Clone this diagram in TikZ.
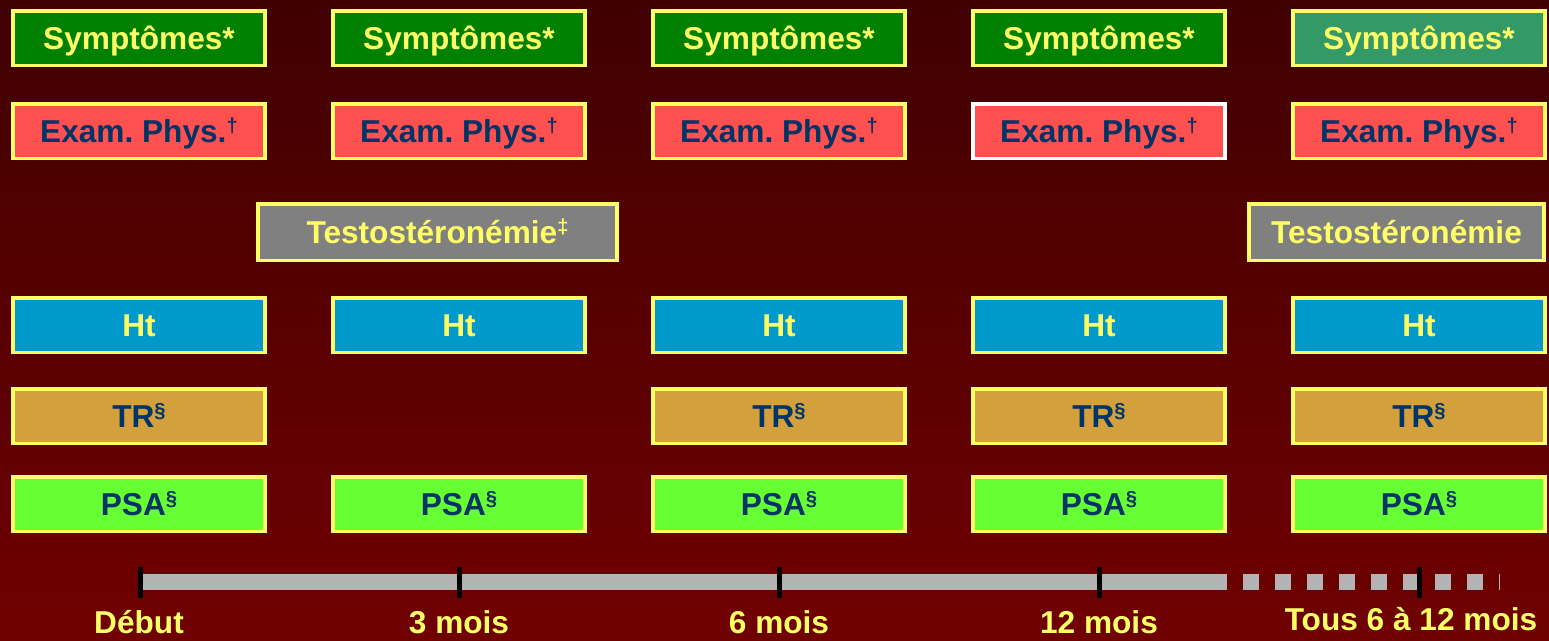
\documentclass[tikz,border=0pt]{standalone}
\usepackage{fontspec}
\setmainfont{Liberation Sans}
\usepackage{xcolor}
\usepackage{tikz}
\usetikzlibrary{positioning}

\definecolor{bgtop}{HTML}{400000}
\definecolor{bgbot}{HTML}{700000}
\definecolor{boxyel}{HTML}{FFFF66}
\definecolor{txtnavy}{HTML}{003366}
\definecolor{sympgreen}{HTML}{008000}
\definecolor{sympsea}{HTML}{339966}
\definecolor{examred}{HTML}{FF5050}
\definecolor{testogray}{HTML}{808080}
\definecolor{htblue}{HTML}{0099CC}
\definecolor{trtan}{HTML}{D4A03C}
\definecolor{psalime}{HTML}{66FF33}
\definecolor{bargray}{HTML}{B3B3B3}

\newcommand{\supmk}[1]{\raisebox{5.5pt}{\fontsize{11.5}{11.5}\selectfont #1}}

\begin{document}
\begin{tikzpicture}[
  x=0.02cm, y=-0.02cm,
  % Node styles
  box/.style={rectangle, draw=boxyel, line width=0.07cm, inner sep=0pt,
    minimum width=5.05cm, minimum height=1.09cm, text height=0.45cm, text depth=0cm,
    font=\fontsize{18}{20}\selectfont\bfseries\frenchspacing, align=center},
  symp/.style={box, fill=sympgreen, text=boxyel},
  exam/.style={box, fill=examred, text=txtnavy},
  testo/.style={box, fill=testogray, text=boxyel, minimum height=1.13cm},
  ht/.style={box, fill=htblue, text=boxyel},
  tr/.style={box, fill=trtan, text=txtnavy},
  psa/.style={box, fill=psalime, text=txtnavy},
  bar/.style={draw=bargray, line width=0.31cm},
  tick/.style={draw=black, line width=0.1cm},
  lbl/.style={anchor=base, text=boxyel, inner sep=0pt, font=\fontsize{18}{20}\selectfont\bfseries}
]

  % Background
  \useasboundingbox (0,0) rectangle (1549,640);
  \fill[top color=bgtop, bottom color=bgbot] (0,0) rectangle (1549,640);

  % Row: Symptomes
  \node[symp] (symp1) at (139,38) {Symptômes*};
  \node[symp] (symp2) at (459,38) {Symptômes*};
  \node[symp] (symp3) at (779,38) {Symptômes*};
  \node[symp] (symp4) at (1099,38) {Symptômes*};
  \node[symp, fill=sympsea] (symp5) at (1419,38) {Symptômes*};

  % Row: Examen physique
  \node[exam] (exam1) at (139,131) {Exam. Phys.\supmk{†}};
  \node[exam] (exam2) at (459,131) {Exam. Phys.\supmk{†}};
  \node[exam] (exam3) at (779,131) {Exam. Phys.\supmk{†}};
  \node[exam, draw=white] (exam4) at (1099,131) {Exam. Phys.\supmk{†}};
  \node[exam] (exam5) at (1419,131) {Exam. Phys.\supmk{†}};

  % Row: Testosteronemie
  \node[testo, minimum width=7.19cm] (testo1) at (437.5,232) {Testostéronémie\supmk{‡}};
  \node[testo, minimum width=5.91cm] (testo2) at (1396.5,232) {Testostéronémie};

  % Row: Ht
  \node[ht] (ht1) at (139,325) {Ht};
  \node[ht] (ht2) at (459,325) {Ht};
  \node[ht] (ht3) at (779,325) {Ht};
  \node[ht] (ht4) at (1099,325) {Ht};
  \node[ht] (ht5) at (1419,325) {Ht};

  % Row: TR
  \node[tr] (tr1) at (139,416) {TR\supmk{§}};
  \node[tr] (tr3) at (779,416) {TR\supmk{§}};
  \node[tr] (tr4) at (1099,416) {TR\supmk{§}};
  \node[tr] (tr5) at (1419,416) {TR\supmk{§}};

  % Row: PSA
  \node[psa] (psa1) at (139,504) {PSA\supmk{§}};
  \node[psa] (psa2) at (459,504) {PSA\supmk{§}};
  \node[psa] (psa3) at (779,504) {PSA\supmk{§}};
  \node[psa] (psa4) at (1099,504) {PSA\supmk{§}};
  \node[psa] (psa5) at (1419,504) {PSA\supmk{§}};

  % Timeline
  \coordinate (t0) at (140,582);
  \coordinate (t1) at (459,582);
  \coordinate (t2) at (779,582);
  \coordinate (t3) at (1099,582);
  \coordinate (t4) at (1419,582);
  \coordinate (solidend) at (1211,582);
  \coordinate (dashend) at (1500,582);
  \draw[bar] (t0) -- (solidend);
  \draw[bar, dash pattern=on 0.32cm off 0.32cm] (solidend) -- (dashend);
  \draw[tick] ([yshift=0.3cm]t0) -- ([yshift=-0.32cm]t0);
  \draw[tick] ([yshift=0.3cm]t1) -- ([yshift=-0.32cm]t1);
  \draw[tick] ([yshift=0.3cm]t2) -- ([yshift=-0.32cm]t2);
  \draw[tick] ([yshift=0.3cm]t3) -- ([yshift=-0.32cm]t3);
  \draw[tick] ([yshift=0.3cm]t4) -- ([yshift=-0.32cm]t4);

  % Timeline labels
  \node[lbl] (debut) at (139,633) {Début};
  \node[lbl] (mois3) at (459,633) {3 mois};
  \node[lbl] (mois6) at (779,633) {6 mois};
  \node[lbl] (mois12) at (1099,633) {12 mois};
  \node[lbl] (tous) at (1411,630) {Tous 6 à 12 mois};

\end{tikzpicture}
\end{document}
